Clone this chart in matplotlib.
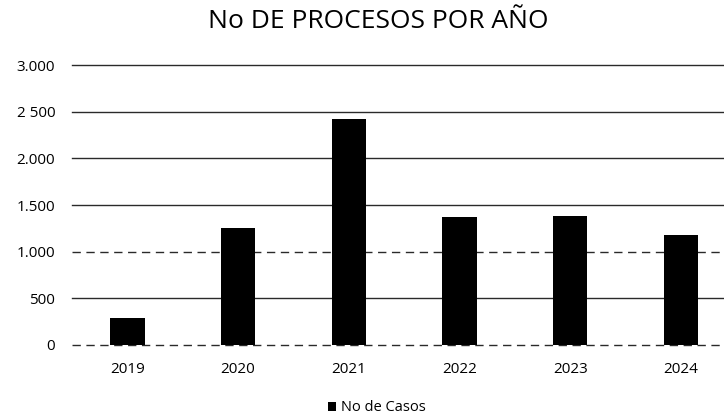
import matplotlib
matplotlib.use("Agg")
import matplotlib.pyplot as plt

years = ["2019", "2020", "2021", "2022", "2023", "2024"]
casos = [290, 1250, 2420, 1370, 1380, 1175]
ytick_vals = [0, 500, 1000, 1500, 2000, 2500, 3000]
ytick_labels = ["0", "500", "1.000", "1.500", "2.000", "2 500", "3.000"]

plt.rcParams['font.family'] = ['Open Sans', 'DejaVu Sans']

fig = plt.figure(figsize=(7.24, 4.18), dpi=100)
ax = fig.add_axes([72/724, 1 - 345/418, 1 - 72/724, (345 - 65)/418])

x = list(range(len(years)))
ax.bar(x, casos, width=0.31, color="black", label="No de Casos", zorder=3)

ax.set_xlim(-0.5, 5.39)
ax.set_ylim(0, 3000)
ax.set_yticks(ytick_vals)
ax.set_yticklabels(ytick_labels, fontsize=11)
ax.set_xticks(x)
ax.set_xticklabels(years, fontsize=11)
ax.tick_params(length=0)
ax.tick_params(axis='y', pad=12)
ax.tick_params(axis='x', pad=12)

for v in ytick_vals:
    ls = (0, (6, 4)) if v in (0, 1000) else '-'
    ax.axhline(v, color="#2a2a2a", lw=1.0, ls=ls, zorder=1, clip_on=False)

for s in ax.spines.values():
    s.set_visible(False)

fig.text(0.522, 0.948, "No DE PROCESOS POR AÑO", ha="center", va="center", fontsize=19)

leg = fig.legend(loc="center", bbox_to_anchor=(0.52, 0.024), frameon=False,
                 fontsize=10.5, handlelength=0.6, handleheight=0.6, handletextpad=0.3)

fig.savefig("out.png", dpi=100)
